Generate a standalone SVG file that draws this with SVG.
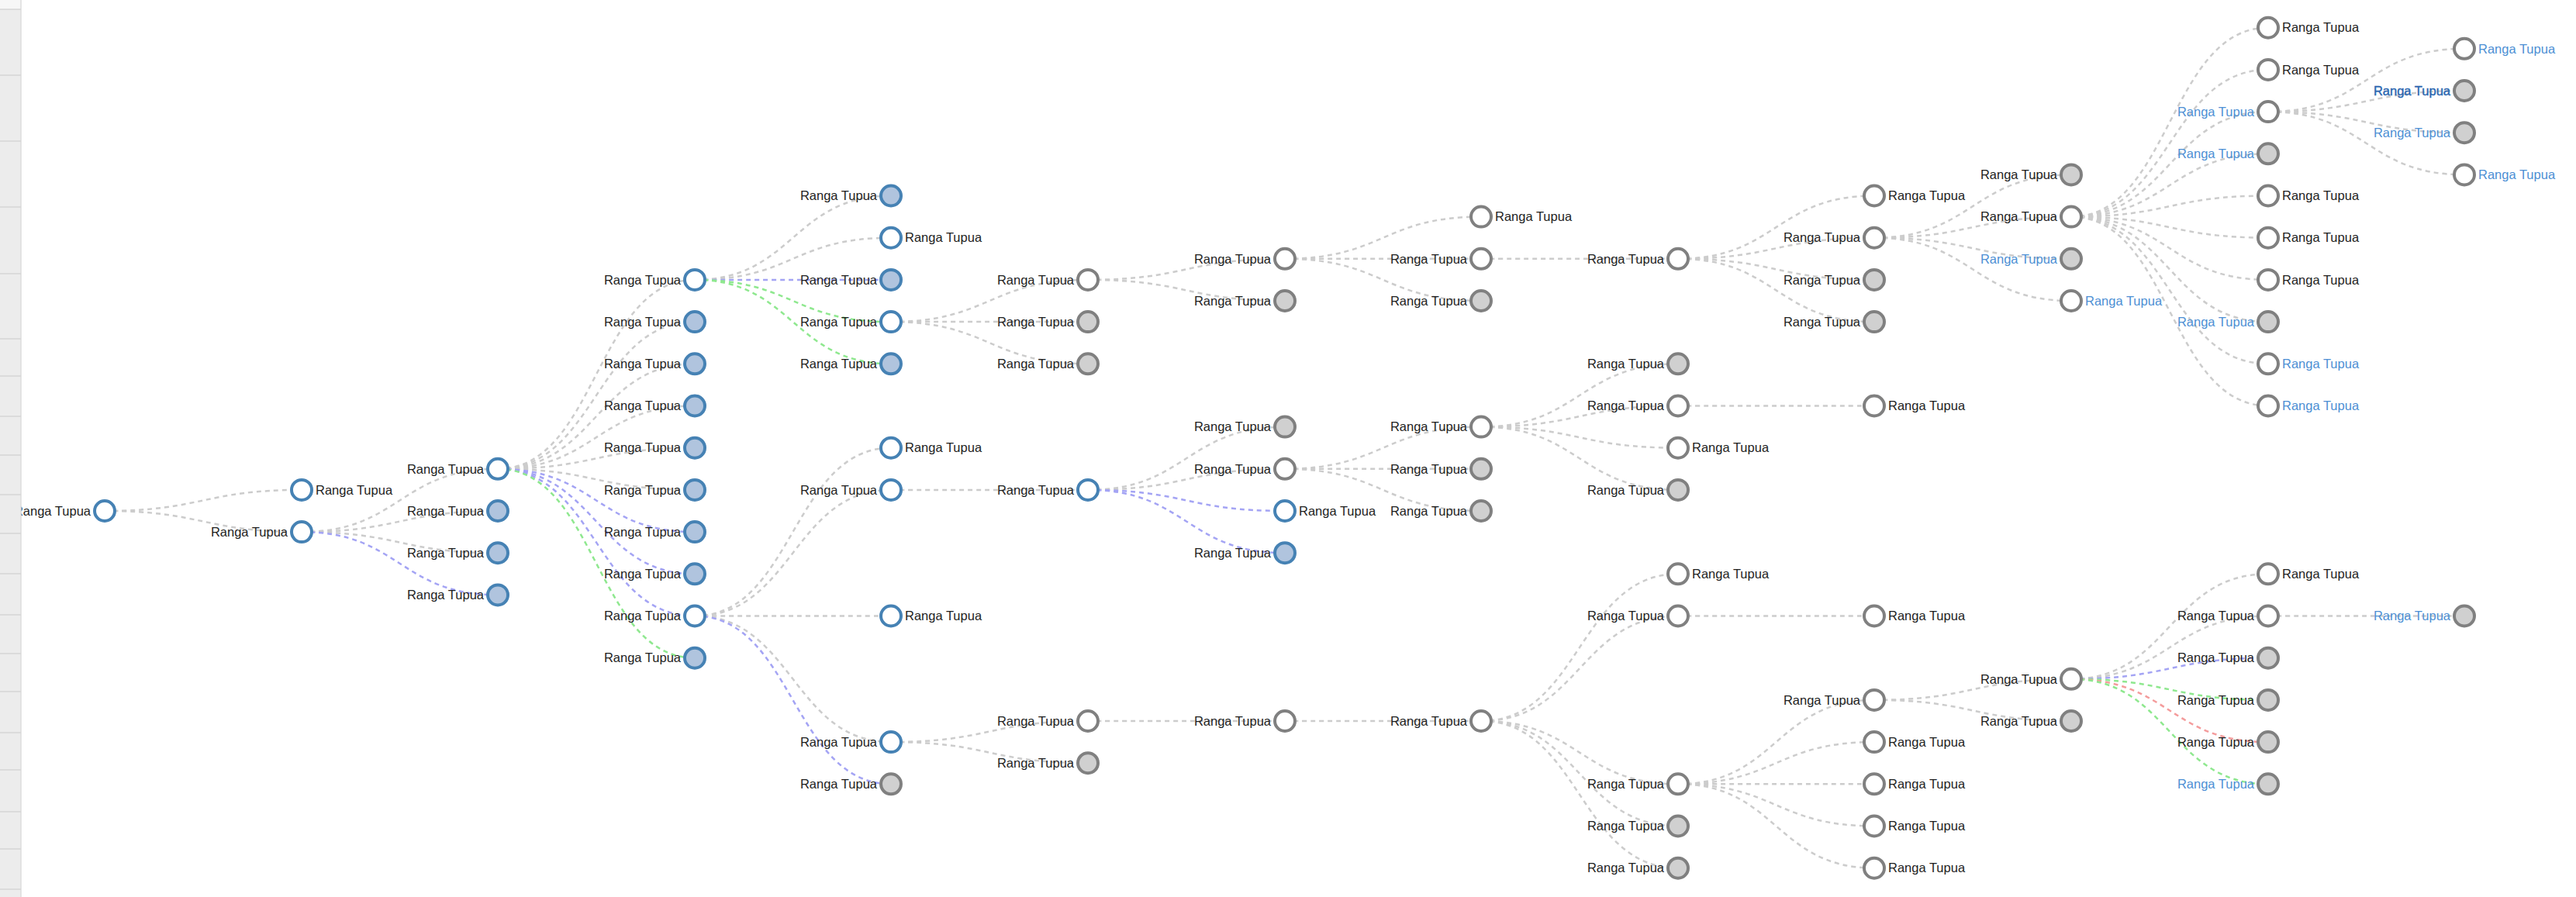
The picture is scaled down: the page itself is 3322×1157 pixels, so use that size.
<svg xmlns="http://www.w3.org/2000/svg" width="3322" height="1157" viewBox="0 0 3322 1157">
<style>
.link{fill:none;stroke:#cccccc;stroke-width:2.5;stroke-dasharray:6 5}
.link.p{stroke:#a4a4f4}
.link.gr{stroke:#8fe88f}
.link.r{stroke:#f49c9c}
.node circle{stroke-width:4}
.b circle{stroke:#4682b4}
.g circle{stroke:#808080}
.o circle{fill:#ffffff}
.b.f circle{fill:#b0c4de}
.g.f circle{fill:#d0d0d0}
.node text{font-family:"Liberation Sans",Arial,sans-serif;font-size:16.5px;fill:#1e1e1e}
.node text.L{text-anchor:end}
.bt text{fill:#4d8fd4}
.dk text{fill:#2a66b0;stroke:#2a66b0;stroke-width:0.4}
</style>
<rect width="3322" height="1157" fill="#ffffff"/>
<g id="links">
<path class="link" d="M135,659C262,659 262,631.9 389,631.9"/>
<path class="link" d="M135,659C262,659 262,686.1 389,686.1"/>
<path class="link" d="M389,686.1C515.5,686.1 515.5,604.8 642,604.8"/>
<path class="link" d="M389,686.1C515.5,686.1 515.5,659 642,659"/>
<path class="link" d="M389,686.1C515.5,686.1 515.5,713.2 642,713.2"/>
<path class="link p" d="M389,686.1C515.5,686.1 515.5,767.4 642,767.4"/>
<path class="link" d="M642,604.8C769,604.8 769,360.9 896,360.9"/>
<path class="link" d="M642,604.8C769,604.8 769,415.1 896,415.1"/>
<path class="link" d="M642,604.8C769,604.8 769,469.3 896,469.3"/>
<path class="link" d="M642,604.8C769,604.8 769,523.5 896,523.5"/>
<path class="link" d="M642,604.8C769,604.8 769,577.7 896,577.7"/>
<path class="link" d="M642,604.8C769,604.8 769,631.9 896,631.9"/>
<path class="link p" d="M642,604.8C769,604.8 769,686.1 896,686.1"/>
<path class="link p" d="M642,604.8C769,604.8 769,740.3 896,740.3"/>
<path class="link p" d="M642,604.8C769,604.8 769,794.5 896,794.5"/>
<path class="link gr" d="M642,604.8C769,604.8 769,848.7 896,848.7"/>
<path class="link" d="M896,360.9C1022.5,360.9 1022.5,252.5 1149,252.5"/>
<path class="link" d="M896,360.9C1022.5,360.9 1022.5,306.7 1149,306.7"/>
<path class="link p" d="M896,360.9C1022.5,360.9 1022.5,360.9 1149,360.9"/>
<path class="link gr" d="M896,360.9C1022.5,360.9 1022.5,415.1 1149,415.1"/>
<path class="link gr" d="M896,360.9C1022.5,360.9 1022.5,469.3 1149,469.3"/>
<path class="link" d="M896,794.5C1022.5,794.5 1022.5,577.7 1149,577.7"/>
<path class="link" d="M896,794.5C1022.5,794.5 1022.5,631.9 1149,631.9"/>
<path class="link" d="M896,794.5C1022.5,794.5 1022.5,794.5 1149,794.5"/>
<path class="link" d="M896,794.5C1022.5,794.5 1022.5,957.1 1149,957.1"/>
<path class="link p" d="M896,794.5C1022.5,794.5 1022.5,1011.3 1149,1011.3"/>
<path class="link" d="M1149,415.1C1276,415.1 1276,360.9 1403,360.9"/>
<path class="link" d="M1149,415.1C1276,415.1 1276,415.1 1403,415.1"/>
<path class="link" d="M1149,415.1C1276,415.1 1276,469.3 1403,469.3"/>
<path class="link" d="M1149,631.9C1276,631.9 1276,631.9 1403,631.9"/>
<path class="link" d="M1149,957.1C1276,957.1 1276,930 1403,930"/>
<path class="link" d="M1149,957.1C1276,957.1 1276,984.2 1403,984.2"/>
<path class="link" d="M1403,360.9C1530,360.9 1530,333.8 1657,333.8"/>
<path class="link" d="M1403,360.9C1530,360.9 1530,388 1657,388"/>
<path class="link" d="M1403,631.9C1530,631.9 1530,550.6 1657,550.6"/>
<path class="link" d="M1403,631.9C1530,631.9 1530,604.8 1657,604.8"/>
<path class="link p" d="M1403,631.9C1530,631.9 1530,659 1657,659"/>
<path class="link p" d="M1403,631.9C1530,631.9 1530,713.2 1657,713.2"/>
<path class="link" d="M1403,930C1530,930 1530,930 1657,930"/>
<path class="link" d="M1657,333.8C1783.5,333.8 1783.5,279.6 1910,279.6"/>
<path class="link" d="M1657,333.8C1783.5,333.8 1783.5,333.8 1910,333.8"/>
<path class="link" d="M1657,333.8C1783.5,333.8 1783.5,388 1910,388"/>
<path class="link" d="M1657,604.8C1783.5,604.8 1783.5,550.6 1910,550.6"/>
<path class="link" d="M1657,604.8C1783.5,604.8 1783.5,604.8 1910,604.8"/>
<path class="link" d="M1657,604.8C1783.5,604.8 1783.5,659 1910,659"/>
<path class="link" d="M1657,930C1783.5,930 1783.5,930 1910,930"/>
<path class="link" d="M1910,333.8C2037,333.8 2037,333.8 2164,333.8"/>
<path class="link" d="M1910,550.6C2037,550.6 2037,469.3 2164,469.3"/>
<path class="link" d="M1910,550.6C2037,550.6 2037,523.5 2164,523.5"/>
<path class="link" d="M1910,550.6C2037,550.6 2037,577.7 2164,577.7"/>
<path class="link" d="M1910,550.6C2037,550.6 2037,631.9 2164,631.9"/>
<path class="link" d="M1910,930C2037,930 2037,740.3 2164,740.3"/>
<path class="link" d="M1910,930C2037,930 2037,794.5 2164,794.5"/>
<path class="link" d="M1910,930C2037,930 2037,1011.3 2164,1011.3"/>
<path class="link" d="M1910,930C2037,930 2037,1065.5 2164,1065.5"/>
<path class="link" d="M1910,930C2037,930 2037,1119.7 2164,1119.7"/>
<path class="link" d="M2164,333.8C2290.5,333.8 2290.5,252.5 2417,252.5"/>
<path class="link" d="M2164,333.8C2290.5,333.8 2290.5,306.7 2417,306.7"/>
<path class="link" d="M2164,333.8C2290.5,333.8 2290.5,360.9 2417,360.9"/>
<path class="link" d="M2164,333.8C2290.5,333.8 2290.5,415.1 2417,415.1"/>
<path class="link" d="M2164,523.5C2290.5,523.5 2290.5,523.5 2417,523.5"/>
<path class="link" d="M2164,794.5C2290.5,794.5 2290.5,794.5 2417,794.5"/>
<path class="link" d="M2164,1011.3C2290.5,1011.3 2290.5,902.9 2417,902.9"/>
<path class="link" d="M2164,1011.3C2290.5,1011.3 2290.5,957.1 2417,957.1"/>
<path class="link" d="M2164,1011.3C2290.5,1011.3 2290.5,1011.3 2417,1011.3"/>
<path class="link" d="M2164,1011.3C2290.5,1011.3 2290.5,1065.5 2417,1065.5"/>
<path class="link" d="M2164,1011.3C2290.5,1011.3 2290.5,1119.7 2417,1119.7"/>
<path class="link" d="M2417,306.7C2544,306.7 2544,225.4 2671,225.4"/>
<path class="link" d="M2417,306.7C2544,306.7 2544,279.6 2671,279.6"/>
<path class="link" d="M2417,306.7C2544,306.7 2544,333.8 2671,333.8"/>
<path class="link" d="M2417,306.7C2544,306.7 2544,388 2671,388"/>
<path class="link" d="M2417,902.9C2544,902.9 2544,875.8 2671,875.8"/>
<path class="link" d="M2417,902.9C2544,902.9 2544,930 2671,930"/>
<path class="link" d="M2671,279.6C2798,279.6 2798,35.7 2925,35.7"/>
<path class="link" d="M2671,279.6C2798,279.6 2798,89.9 2925,89.9"/>
<path class="link" d="M2671,279.6C2798,279.6 2798,144.1 2925,144.1"/>
<path class="link" d="M2671,279.6C2798,279.6 2798,198.3 2925,198.3"/>
<path class="link" d="M2671,279.6C2798,279.6 2798,252.5 2925,252.5"/>
<path class="link" d="M2671,279.6C2798,279.6 2798,306.7 2925,306.7"/>
<path class="link" d="M2671,279.6C2798,279.6 2798,360.9 2925,360.9"/>
<path class="link" d="M2671,279.6C2798,279.6 2798,415.1 2925,415.1"/>
<path class="link" d="M2671,279.6C2798,279.6 2798,469.3 2925,469.3"/>
<path class="link" d="M2671,279.6C2798,279.6 2798,523.5 2925,523.5"/>
<path class="link" d="M2671,875.8C2798,875.8 2798,740.3 2925,740.3"/>
<path class="link" d="M2671,875.8C2798,875.8 2798,794.5 2925,794.5"/>
<path class="link p" d="M2671,875.8C2798,875.8 2798,848.7 2925,848.7"/>
<path class="link gr" d="M2671,875.8C2798,875.8 2798,902.9 2925,902.9"/>
<path class="link r" d="M2671,875.8C2798,875.8 2798,957.1 2925,957.1"/>
<path class="link gr" d="M2671,875.8C2798,875.8 2798,1011.3 2925,1011.3"/>
<path class="link" d="M2925,144.1C3051.5,144.1 3051.5,62.8 3178,62.8"/>
<path class="link" d="M2925,144.1C3051.5,144.1 3051.5,117 3178,117"/>
<path class="link" d="M2925,144.1C3051.5,144.1 3051.5,171.2 3178,171.2"/>
<path class="link" d="M2925,144.1C3051.5,144.1 3051.5,225.4 3178,225.4"/>
<path class="link" d="M2925,794.5C3051.5,794.5 3051.5,794.5 3178,794.5"/>
</g>
<g id="nodes">
<g id="n0" class="node b o" transform="translate(135,659)"><circle r="13"/><text class="L" x="-18" dy="0.35em">Ranga Tupua</text></g>
<g id="n1" class="node b o" transform="translate(389,631.9)"><circle r="13"/><text x="18" dy="0.35em">Ranga Tupua</text></g>
<g id="n2" class="node b o" transform="translate(389,686.1)"><circle r="13"/><text class="L" x="-18" dy="0.35em">Ranga Tupua</text></g>
<g id="n3" class="node b o" transform="translate(642,604.8)"><circle r="13"/><text class="L" x="-18" dy="0.35em">Ranga Tupua</text></g>
<g id="n4" class="node b f" transform="translate(642,659)"><circle r="13"/><text class="L" x="-18" dy="0.35em">Ranga Tupua</text></g>
<g id="n5" class="node b f" transform="translate(642,713.2)"><circle r="13"/><text class="L" x="-18" dy="0.35em">Ranga Tupua</text></g>
<g id="n6" class="node b f" transform="translate(642,767.4)"><circle r="13"/><text class="L" x="-18" dy="0.35em">Ranga Tupua</text></g>
<g id="n7" class="node b o" transform="translate(896,360.9)"><circle r="13"/><text class="L" x="-18" dy="0.35em">Ranga Tupua</text></g>
<g id="n8" class="node b f" transform="translate(896,415.1)"><circle r="13"/><text class="L" x="-18" dy="0.35em">Ranga Tupua</text></g>
<g id="n9" class="node b f" transform="translate(896,469.3)"><circle r="13"/><text class="L" x="-18" dy="0.35em">Ranga Tupua</text></g>
<g id="n10" class="node b f" transform="translate(896,523.5)"><circle r="13"/><text class="L" x="-18" dy="0.35em">Ranga Tupua</text></g>
<g id="n11" class="node b f" transform="translate(896,577.7)"><circle r="13"/><text class="L" x="-18" dy="0.35em">Ranga Tupua</text></g>
<g id="n12" class="node b f" transform="translate(896,631.9)"><circle r="13"/><text class="L" x="-18" dy="0.35em">Ranga Tupua</text></g>
<g id="n13" class="node b f" transform="translate(896,686.1)"><circle r="13"/><text class="L" x="-18" dy="0.35em">Ranga Tupua</text></g>
<g id="n14" class="node b f" transform="translate(896,740.3)"><circle r="13"/><text class="L" x="-18" dy="0.35em">Ranga Tupua</text></g>
<g id="n15" class="node b o" transform="translate(896,794.5)"><circle r="13"/><text class="L" x="-18" dy="0.35em">Ranga Tupua</text></g>
<g id="n16" class="node b f" transform="translate(896,848.7)"><circle r="13"/><text class="L" x="-18" dy="0.35em">Ranga Tupua</text></g>
<g id="n17" class="node b f" transform="translate(1149,252.5)"><circle r="13"/><text class="L" x="-18" dy="0.35em">Ranga Tupua</text></g>
<g id="n18" class="node b o" transform="translate(1149,306.7)"><circle r="13"/><text x="18" dy="0.35em">Ranga Tupua</text></g>
<g id="n19" class="node b f" transform="translate(1149,360.9)"><circle r="13"/><text class="L" x="-18" dy="0.35em">Ranga Tupua</text></g>
<g id="n20" class="node b o" transform="translate(1149,415.1)"><circle r="13"/><text class="L" x="-18" dy="0.35em">Ranga Tupua</text></g>
<g id="n21" class="node b f" transform="translate(1149,469.3)"><circle r="13"/><text class="L" x="-18" dy="0.35em">Ranga Tupua</text></g>
<g id="n22" class="node b o" transform="translate(1149,577.7)"><circle r="13"/><text x="18" dy="0.35em">Ranga Tupua</text></g>
<g id="n23" class="node b o" transform="translate(1149,631.9)"><circle r="13"/><text class="L" x="-18" dy="0.35em">Ranga Tupua</text></g>
<g id="n24" class="node b o" transform="translate(1149,794.5)"><circle r="13"/><text x="18" dy="0.35em">Ranga Tupua</text></g>
<g id="n25" class="node b o" transform="translate(1149,957.1)"><circle r="13"/><text class="L" x="-18" dy="0.35em">Ranga Tupua</text></g>
<g id="n26" class="node g f" transform="translate(1149,1011.3)"><circle r="13"/><text class="L" x="-18" dy="0.35em">Ranga Tupua</text></g>
<g id="n27" class="node g o" transform="translate(1403,360.9)"><circle r="13"/><text class="L" x="-18" dy="0.35em">Ranga Tupua</text></g>
<g id="n28" class="node g f" transform="translate(1403,415.1)"><circle r="13"/><text class="L" x="-18" dy="0.35em">Ranga Tupua</text></g>
<g id="n29" class="node g f" transform="translate(1403,469.3)"><circle r="13"/><text class="L" x="-18" dy="0.35em">Ranga Tupua</text></g>
<g id="n30" class="node b o" transform="translate(1403,631.9)"><circle r="13"/><text class="L" x="-18" dy="0.35em">Ranga Tupua</text></g>
<g id="n31" class="node g o" transform="translate(1403,930)"><circle r="13"/><text class="L" x="-18" dy="0.35em">Ranga Tupua</text></g>
<g id="n32" class="node g f" transform="translate(1403,984.2)"><circle r="13"/><text class="L" x="-18" dy="0.35em">Ranga Tupua</text></g>
<g id="n33" class="node g o" transform="translate(1657,333.8)"><circle r="13"/><text class="L" x="-18" dy="0.35em">Ranga Tupua</text></g>
<g id="n34" class="node g f" transform="translate(1657,388)"><circle r="13"/><text class="L" x="-18" dy="0.35em">Ranga Tupua</text></g>
<g id="n35" class="node g f" transform="translate(1657,550.6)"><circle r="13"/><text class="L" x="-18" dy="0.35em">Ranga Tupua</text></g>
<g id="n36" class="node g o" transform="translate(1657,604.8)"><circle r="13"/><text class="L" x="-18" dy="0.35em">Ranga Tupua</text></g>
<g id="n37" class="node b o" transform="translate(1657,659)"><circle r="13"/><text x="18" dy="0.35em">Ranga Tupua</text></g>
<g id="n38" class="node b f" transform="translate(1657,713.2)"><circle r="13"/><text class="L" x="-18" dy="0.35em">Ranga Tupua</text></g>
<g id="n39" class="node g o" transform="translate(1657,930)"><circle r="13"/><text class="L" x="-18" dy="0.35em">Ranga Tupua</text></g>
<g id="n40" class="node g o" transform="translate(1910,279.6)"><circle r="13"/><text x="18" dy="0.35em">Ranga Tupua</text></g>
<g id="n41" class="node g o" transform="translate(1910,333.8)"><circle r="13"/><text class="L" x="-18" dy="0.35em">Ranga Tupua</text></g>
<g id="n42" class="node g f" transform="translate(1910,388)"><circle r="13"/><text class="L" x="-18" dy="0.35em">Ranga Tupua</text></g>
<g id="n43" class="node g o" transform="translate(1910,550.6)"><circle r="13"/><text class="L" x="-18" dy="0.35em">Ranga Tupua</text></g>
<g id="n44" class="node g f" transform="translate(1910,604.8)"><circle r="13"/><text class="L" x="-18" dy="0.35em">Ranga Tupua</text></g>
<g id="n45" class="node g f" transform="translate(1910,659)"><circle r="13"/><text class="L" x="-18" dy="0.35em">Ranga Tupua</text></g>
<g id="n46" class="node g o" transform="translate(1910,930)"><circle r="13"/><text class="L" x="-18" dy="0.35em">Ranga Tupua</text></g>
<g id="n47" class="node g o" transform="translate(2164,333.8)"><circle r="13"/><text class="L" x="-18" dy="0.35em">Ranga Tupua</text></g>
<g id="n48" class="node g f" transform="translate(2164,469.3)"><circle r="13"/><text class="L" x="-18" dy="0.35em">Ranga Tupua</text></g>
<g id="n49" class="node g o" transform="translate(2164,523.5)"><circle r="13"/><text class="L" x="-18" dy="0.35em">Ranga Tupua</text></g>
<g id="n50" class="node g o" transform="translate(2164,577.7)"><circle r="13"/><text x="18" dy="0.35em">Ranga Tupua</text></g>
<g id="n51" class="node g f" transform="translate(2164,631.9)"><circle r="13"/><text class="L" x="-18" dy="0.35em">Ranga Tupua</text></g>
<g id="n52" class="node g o" transform="translate(2164,740.3)"><circle r="13"/><text x="18" dy="0.35em">Ranga Tupua</text></g>
<g id="n53" class="node g o" transform="translate(2164,794.5)"><circle r="13"/><text class="L" x="-18" dy="0.35em">Ranga Tupua</text></g>
<g id="n54" class="node g o" transform="translate(2164,1011.3)"><circle r="13"/><text class="L" x="-18" dy="0.35em">Ranga Tupua</text></g>
<g id="n55" class="node g f" transform="translate(2164,1065.5)"><circle r="13"/><text class="L" x="-18" dy="0.35em">Ranga Tupua</text></g>
<g id="n56" class="node g f" transform="translate(2164,1119.7)"><circle r="13"/><text class="L" x="-18" dy="0.35em">Ranga Tupua</text></g>
<g id="n57" class="node g o" transform="translate(2417,252.5)"><circle r="13"/><text x="18" dy="0.35em">Ranga Tupua</text></g>
<g id="n58" class="node g o" transform="translate(2417,306.7)"><circle r="13"/><text class="L" x="-18" dy="0.35em">Ranga Tupua</text></g>
<g id="n59" class="node g f" transform="translate(2417,360.9)"><circle r="13"/><text class="L" x="-18" dy="0.35em">Ranga Tupua</text></g>
<g id="n60" class="node g f" transform="translate(2417,415.1)"><circle r="13"/><text class="L" x="-18" dy="0.35em">Ranga Tupua</text></g>
<g id="n61" class="node g o" transform="translate(2417,523.5)"><circle r="13"/><text x="18" dy="0.35em">Ranga Tupua</text></g>
<g id="n62" class="node g o" transform="translate(2417,794.5)"><circle r="13"/><text x="18" dy="0.35em">Ranga Tupua</text></g>
<g id="n63" class="node g o" transform="translate(2417,902.9)"><circle r="13"/><text class="L" x="-18" dy="0.35em">Ranga Tupua</text></g>
<g id="n64" class="node g o" transform="translate(2417,957.1)"><circle r="13"/><text x="18" dy="0.35em">Ranga Tupua</text></g>
<g id="n65" class="node g o" transform="translate(2417,1011.3)"><circle r="13"/><text x="18" dy="0.35em">Ranga Tupua</text></g>
<g id="n66" class="node g o" transform="translate(2417,1065.5)"><circle r="13"/><text x="18" dy="0.35em">Ranga Tupua</text></g>
<g id="n67" class="node g o" transform="translate(2417,1119.7)"><circle r="13"/><text x="18" dy="0.35em">Ranga Tupua</text></g>
<g id="n68" class="node g f" transform="translate(2671,225.4)"><circle r="13"/><text class="L" x="-18" dy="0.35em">Ranga Tupua</text></g>
<g id="n69" class="node g o" transform="translate(2671,279.6)"><circle r="13"/><text class="L" x="-18" dy="0.35em">Ranga Tupua</text></g>
<g id="n70" class="node g f bt" transform="translate(2671,333.8)"><circle r="13"/><text class="L" x="-18" dy="0.35em">Ranga Tupua</text></g>
<g id="n71" class="node g o bt" transform="translate(2671,388)"><circle r="13"/><text x="18" dy="0.35em">Ranga Tupua</text></g>
<g id="n72" class="node g o" transform="translate(2671,875.8)"><circle r="13"/><text class="L" x="-18" dy="0.35em">Ranga Tupua</text></g>
<g id="n73" class="node g f" transform="translate(2671,930)"><circle r="13"/><text class="L" x="-18" dy="0.35em">Ranga Tupua</text></g>
<g id="n74" class="node g o" transform="translate(2925,35.7)"><circle r="13"/><text x="18" dy="0.35em">Ranga Tupua</text></g>
<g id="n75" class="node g o" transform="translate(2925,89.9)"><circle r="13"/><text x="18" dy="0.35em">Ranga Tupua</text></g>
<g id="n76" class="node g o bt" transform="translate(2925,144.1)"><circle r="13"/><text class="L" x="-18" dy="0.35em">Ranga Tupua</text></g>
<g id="n77" class="node g f bt" transform="translate(2925,198.3)"><circle r="13"/><text class="L" x="-18" dy="0.35em">Ranga Tupua</text></g>
<g id="n78" class="node g o" transform="translate(2925,252.5)"><circle r="13"/><text x="18" dy="0.35em">Ranga Tupua</text></g>
<g id="n79" class="node g o" transform="translate(2925,306.7)"><circle r="13"/><text x="18" dy="0.35em">Ranga Tupua</text></g>
<g id="n80" class="node g o" transform="translate(2925,360.9)"><circle r="13"/><text x="18" dy="0.35em">Ranga Tupua</text></g>
<g id="n81" class="node g f bt" transform="translate(2925,415.1)"><circle r="13"/><text class="L" x="-18" dy="0.35em">Ranga Tupua</text></g>
<g id="n82" class="node g o bt" transform="translate(2925,469.3)"><circle r="13"/><text x="18" dy="0.35em">Ranga Tupua</text></g>
<g id="n83" class="node g o bt" transform="translate(2925,523.5)"><circle r="13"/><text x="18" dy="0.35em">Ranga Tupua</text></g>
<g id="n84" class="node g o" transform="translate(2925,740.3)"><circle r="13"/><text x="18" dy="0.35em">Ranga Tupua</text></g>
<g id="n85" class="node g o" transform="translate(2925,794.5)"><circle r="13"/><text class="L" x="-18" dy="0.35em">Ranga Tupua</text></g>
<g id="n86" class="node g f" transform="translate(2925,848.7)"><circle r="13"/><text class="L" x="-18" dy="0.35em">Ranga Tupua</text></g>
<g id="n87" class="node g f" transform="translate(2925,902.9)"><circle r="13"/><text class="L" x="-18" dy="0.35em">Ranga Tupua</text></g>
<g id="n88" class="node g f" transform="translate(2925,957.1)"><circle r="13"/><text class="L" x="-18" dy="0.35em">Ranga Tupua</text></g>
<g id="n89" class="node g f bt" transform="translate(2925,1011.3)"><circle r="13"/><text class="L" x="-18" dy="0.35em">Ranga Tupua</text></g>
<g id="n90" class="node g o bt" transform="translate(3178,62.8)"><circle r="13"/><text x="18" dy="0.35em">Ranga Tupua</text></g>
<g id="n91" class="node g f dk" transform="translate(3178,117)"><circle r="13"/><text class="L" x="-18" dy="0.35em">Ranga Tupua</text></g>
<g id="n92" class="node g f bt" transform="translate(3178,171.2)"><circle r="13"/><text class="L" x="-18" dy="0.35em">Ranga Tupua</text></g>
<g id="n93" class="node g o bt" transform="translate(3178,225.4)"><circle r="13"/><text x="18" dy="0.35em">Ranga Tupua</text></g>
<g id="n94" class="node g f bt" transform="translate(3178,794.5)"><circle r="13"/><text class="L" x="-18" dy="0.35em">Ranga Tupua</text></g>
</g>
<g id="sidebar">
<rect x="0" y="0" width="27" height="1157" fill="#ececec"/>
<rect x="0" y="0" width="27" height="12" fill="#f7f7f7"/>
<line x1="27" y1="0" x2="27" y2="1157" stroke="#dcdcdc" stroke-width="1.5"/>
<g stroke="#d6d6d6" stroke-width="1.5">
<line x1="0" y1="12" x2="27" y2="12"/><line x1="0" y1="97" x2="27" y2="97"/><line x1="0" y1="182" x2="27" y2="182"/><line x1="0" y1="267" x2="27" y2="267"/><line x1="0" y1="353" x2="27" y2="353"/><line x1="0" y1="437" x2="27" y2="437"/><line x1="0" y1="485" x2="27" y2="485"/><line x1="0" y1="537" x2="27" y2="537"/><line x1="0" y1="587" x2="27" y2="587"/><line x1="0" y1="638" x2="27" y2="638"/><line x1="0" y1="688" x2="27" y2="688"/><line x1="0" y1="740" x2="27" y2="740"/><line x1="0" y1="793" x2="27" y2="793"/><line x1="0" y1="843" x2="27" y2="843"/><line x1="0" y1="892" x2="27" y2="892"/><line x1="0" y1="945" x2="27" y2="945"/><line x1="0" y1="993" x2="27" y2="993"/><line x1="0" y1="1047" x2="27" y2="1047"/><line x1="0" y1="1095" x2="27" y2="1095"/><line x1="0" y1="1147" x2="27" y2="1147"/>
</g>
</g>
</svg>
